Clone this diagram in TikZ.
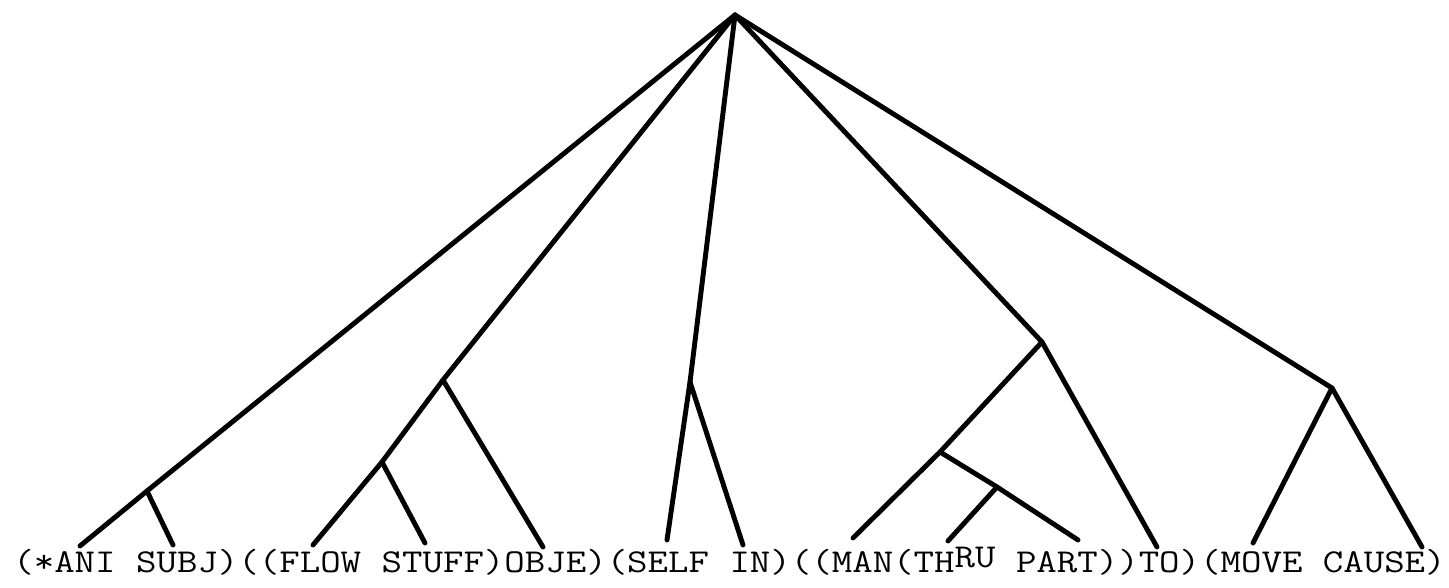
\documentclass[tikz,border=0pt]{standalone}
\usepackage{tikz}
\usetikzlibrary{positioning}

\tikzset{
  branch/.style={line width=2.8pt, line cap=round, line join=round, black},
  leaftext/.style={anchor=base west, inner sep=0pt, black}
}
\newcommand{\leafline}{\scalebox{1.19}[1]{\fontsize{19}{21}\selectfont\ttfamily
  (*ANI SUBJ)((FLOW STUFF)OBJE)(SELF IN)((MAN(TH\raisebox{3pt}{RU} PART))TO)(MOVE CAUSE)}}

\begin{document}
\begin{tikzpicture}
    \useasboundingbox (0,0) rectangle (28.98, 11.76);
    % Inner nodes
    \coordinate (root)   at (14.70, 11.46);
    \coordinate (nAni)   at (2.94, 1.94);
    \coordinate (nObje)  at (8.86, 4.16);
    \coordinate (nFlow)  at (7.64, 2.52);
    \coordinate (nIn)    at (13.80, 4.12);
    \coordinate (nTo)    at (20.84, 4.92);
    \coordinate (nMan)   at (18.80, 2.72);
    \coordinate (nThru)  at (19.94, 2.02);
    \coordinate (nCause) at (26.64, 4.00);
    % Leaf ends
    \coordinate (lAni)   at (1.60, 0.84);
    \coordinate (lSubj)  at (3.46, 0.86);
    \coordinate (lFlow)  at (6.26, 0.86);
    \coordinate (lStuff) at (8.50, 0.90);
    \coordinate (lObje)  at (10.86, 0.82);
    \coordinate (lSelf)  at (13.34, 0.96);
    \coordinate (lIn)    at (14.86, 0.86);
    \coordinate (lMan)   at (17.06, 1.00);
    \coordinate (lThru)  at (18.96, 0.94);
    \coordinate (lPart)  at (21.56, 0.96);
    \coordinate (lTo)    at (23.14, 0.82);
    \coordinate (lMove)  at (25.06, 0.90);
    \coordinate (lCause) at (28.44, 0.82);
    % Top level branches
    \draw[branch] (root) -- (nAni) -- (lAni);
    \draw[branch] (root) -- (nObje) -- (nFlow) -- (lFlow);
    \draw[branch] (root) -- (nIn) -- (lSelf);
    \draw[branch] (root) -- (nTo) -- (nMan) -- (lMan);
    \draw[branch] (root) -- (nCause) -- (lMove);
    % Second level branches
    \draw[branch] (nAni) -- (lSubj);
    \draw[branch] (nFlow) -- (lStuff);
    \draw[branch] (nObje) -- (lObje);
    \draw[branch] (nIn) -- (lIn);
    \draw[branch] (nMan) -- (nThru) -- (lPart);
    \draw[branch] (nThru) -- (lThru);
    \draw[branch] (nTo) -- (lTo);
    \draw[branch] (nCause) -- (lCause);
    % Bracketed list
    \node[leaftext] (leaves) at (0.26, 0.30) {\leafline};
\end{tikzpicture}
\end{document}
